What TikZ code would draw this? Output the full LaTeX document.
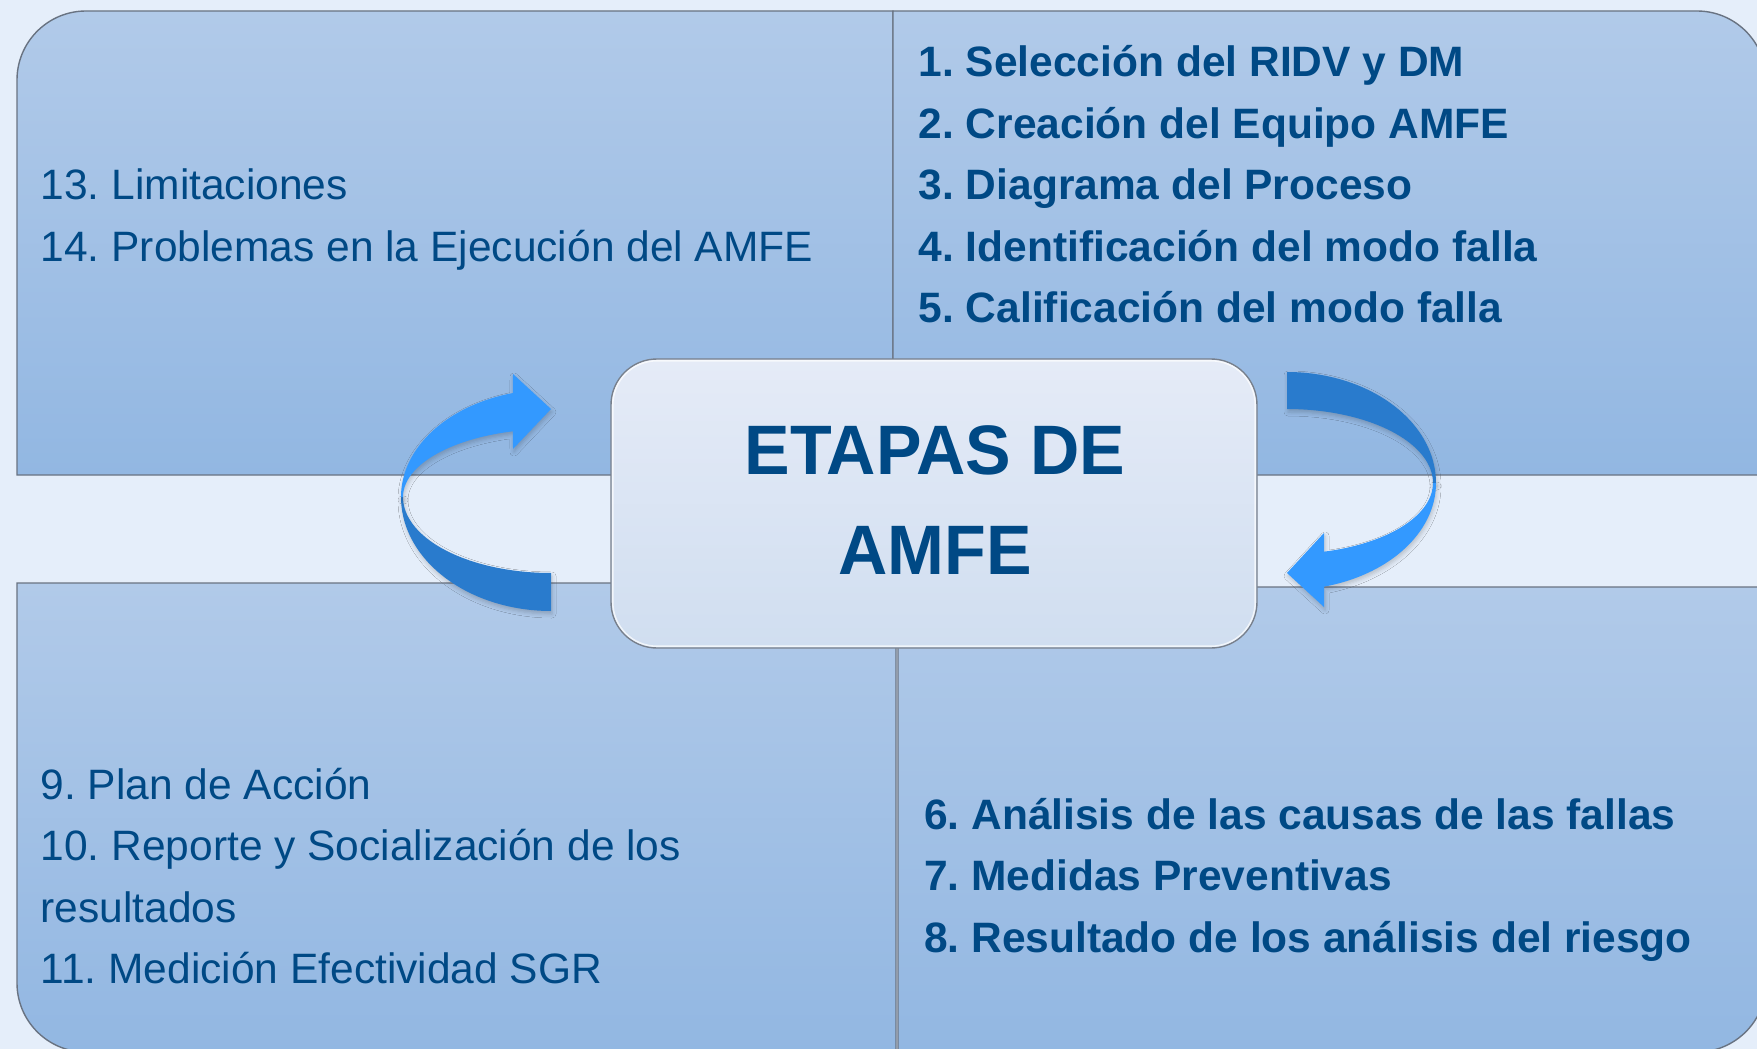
\documentclass[tikz,border=0pt]{standalone}
\usepackage{fontspec}
\setmainfont{Liberation Sans}
\newfontfamily\titlefont[FakeStretch=0.975]{Liberation Sans}
\usetikzlibrary{shadows.blur}
\definecolor{bgc}{RGB}{229,238,250}
\definecolor{qtop}{RGB}{177,202,233}
\definecolor{qbot}{RGB}{146,183,226}
\definecolor{qline}{RGB}{105,115,130}
\definecolor{ctop}{RGB}{229,235,247}
\definecolor{cbot}{RGB}{208,222,240}
\definecolor{cline}{RGB}{120,128,140}
\definecolor{txt}{RGB}{0,73,133}
\definecolor{arrdark}{RGB}{41,123,205}
\definecolor{arrlight}{RGB}{51,153,255}
\frenchspacing
\begin{document}
\begin{tikzpicture}[x=1pt,y=-1pt,
  quad/.style={top color=qtop,bottom color=qbot,draw=qline,line width=1.4pt},
  item/.style={anchor=base west,inner sep=0pt,text=txt,font=\fontsize{42.5}{51}\selectfont},
  bitem/.style={item,font=\fontsize{42.5}{51}\selectfont\bfseries},
  arrshadow/.style={blur shadow={shadow xshift=1pt,shadow yshift=-3pt,shadow blur radius=4pt,shadow opacity=20}},
  darkband/.style={fill=arrdark,arrshadow},
  lightband/.style={fill=arrlight,arrshadow}]
\useasboundingbox (0,0) rectangle (1757,1049);
\clip (0,0) rectangle (1757,1049);
\fill[bgc] (0,0) rectangle (1757,1049);

% quadrants
\path[quad] (17,475) -- (17,80) arc[start angle=180,end angle=270,radius=69] -- (893,11) -- (893,475) -- cycle;
\path[quad] (893,475) -- (893,11) -- (1697,11) arc[start angle=270,end angle=360,radius=69] -- (1766,475) -- cycle;
\path[quad] (17,583) -- (17,983) arc[start angle=180,end angle=90,radius=69] -- (896,1052) -- (896,583) -- cycle;
\path[quad] (898,587) -- (1766,587) -- (1766,983) arc[start angle=0,end angle=90,radius=69] -- (898,1052) -- cycle;

% texts
\node[item] (t13) at (40.5,199.5) {13. Limitaciones};
\node[item] (t14) at (40.5,261) {14. Problemas en la Ejecución del AMFE};

\node[bitem] (t1) at (918.5,76.5) {1. Selección del RIDV y DM};
\node[bitem] (t2) at (918.5,138) {2. Creación del Equipo AMFE};
\node[bitem] (t3) at (918.5,199.5) {3. Diagrama del Proceso};
\node[bitem] (t4) at (918.5,261) {4. Identificación del modo falla};
\node[bitem] (t5) at (918.5,322.5) {5. Calificación del modo falla};

\node[item] (t9) at (40.5,799) {9. Plan de Acción};
\node[item] (t10) at (40.5,860.5) {10. Reporte y Socialización de los};
\node[item] (t10b) at (40.5,922) {resultados};
\node[item] (t11) at (40.5,983.5) {11. Medición Efectividad SGR};

\node[bitem] (t6) at (924,829) {6. Análisis de las causas de las fallas};
\node[bitem] (t7) at (924,890.5) {7. Medidas Preventivas};
\node[bitem] (t8) at (924,952) {8. Resultado de los análisis del riesgo};

% left arrow
\fill[darkband] plot[domain=90:180,samples=50] ({551+150*cos(\x)},{497+114*sin(\x)})
  -- plot[domain=180:90,samples=50] ({551+148*cos(\x)},{497+76*sin(\x)}) -- cycle;
\fill[lightband] plot[domain=180:255.3,samples=50] ({551+150*cos(\x)},{497+107.5*sin(\x)})
  -- (513,374) -- (551,409) -- (513,449)
  -- plot[domain=255.1:180,samples=50] ({551+148*cos(\x)},{497+68*sin(\x)}) -- cycle;

% right arrow
\fill[darkband] plot[domain=-90:0,samples=50] ({1287+149*cos(\x)},{483+111*sin(\x)})
  -- plot[domain=0:-90,samples=50] ({1287+146*cos(\x)},{483+74*sin(\x)}) -- cycle;
\fill[lightband] plot[domain=0:75.6,samples=50] ({1287+149*cos(\x)},{483+107*sin(\x)})
  -- (1324,607) -- (1287,573) -- (1324,533)
  -- plot[domain=75.3:0,samples=50] ({1287+146*cos(\x)},{483+71*sin(\x)}) -- cycle;

% center box
\node[draw=cline,line width=1.4pt,rounded corners=46pt,top color=ctop,bottom color=cbot,
  minimum width=646pt,minimum height=289pt,inner sep=0pt] (box) at (934,503.5) {};
\draw[white,opacity=0.7,line width=1.5pt,rounded corners=44pt]
  ([xshift=2.5pt,yshift=-2.5pt]box.north west) rectangle ([xshift=-2.5pt,yshift=2.5pt]box.south east);
\node[align=center,text=txt,inner sep=0pt,font=\titlefont\bfseries\fontsize{70}{100}\selectfont] (title) at (935,500) {ETAPAS DE\\AMFE};
\end{tikzpicture}
\end{document}
